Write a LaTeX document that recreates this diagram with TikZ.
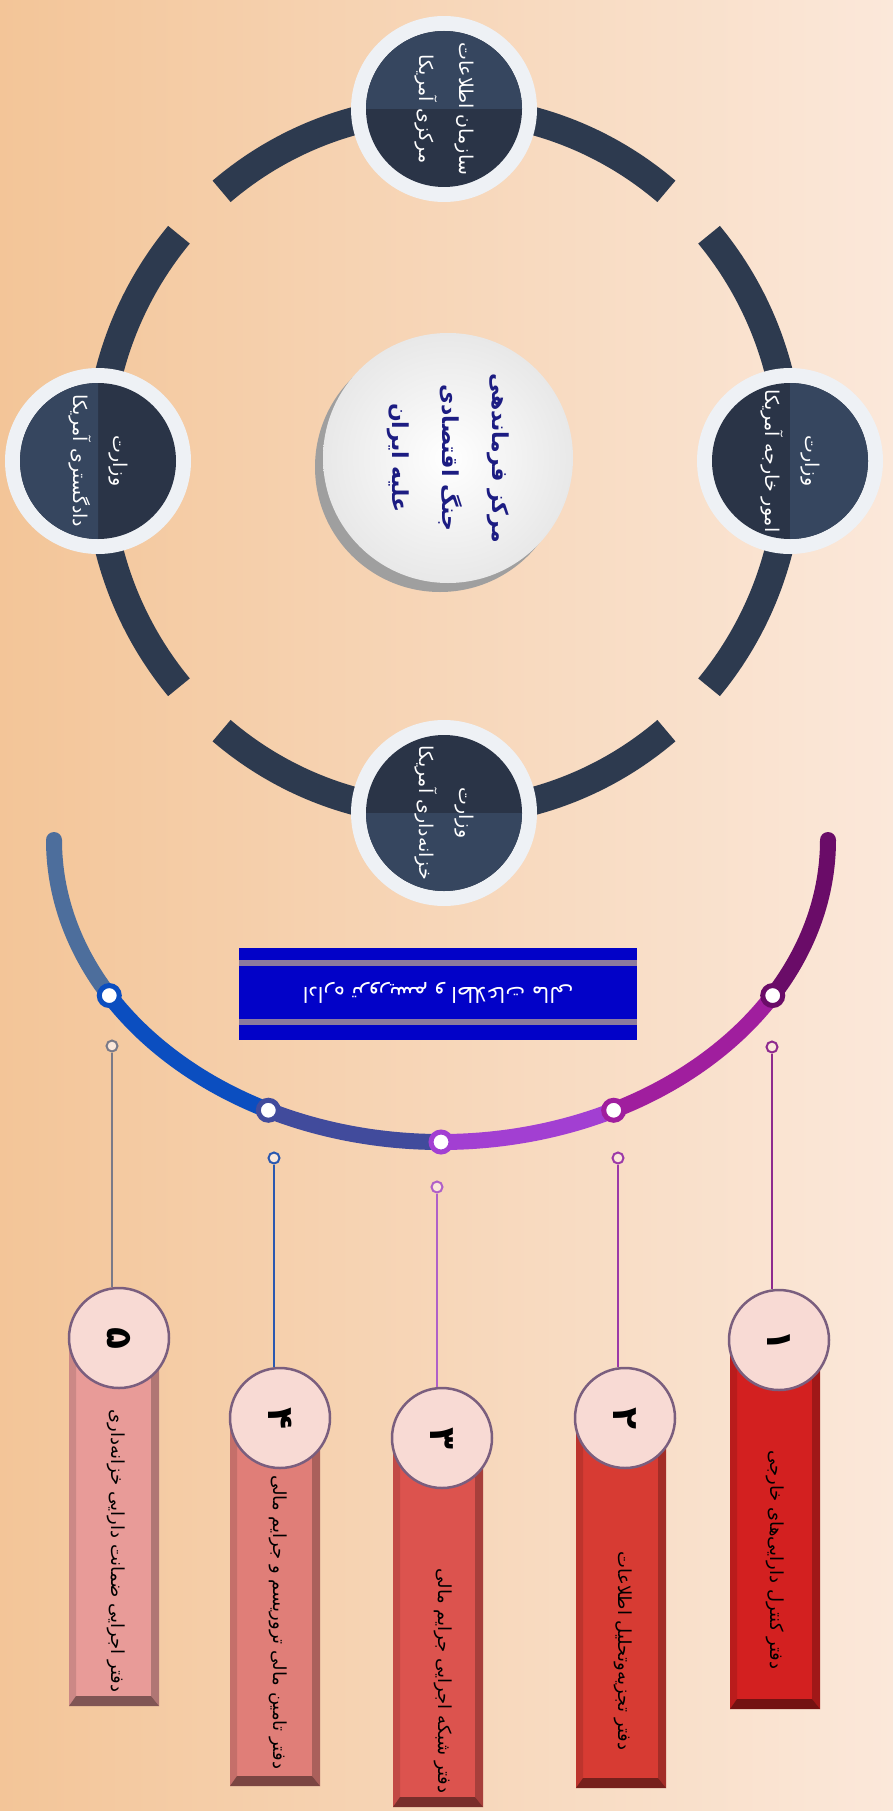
\documentclass[tikz,border=0pt]{standalone}
\usepackage{fontspec}
\usetikzlibrary{calc}
\newfontfamily\arabicfont[Script=Arabic]{DejaVu Sans}
\TeXXeTstate=1
\newcommand{\fa}[1]{\beginR #1\endR}
\definecolor{sandL}{HTML}{F3C598}
\definecolor{sandR}{HTML}{FBE8DA}
\definecolor{slate}{HTML}{2D3A4F}
\definecolor{slatehi}{HTML}{36465F}
\definecolor{slatelo}{HTML}{2A3447}
\definecolor{rim}{HTML}{EEF1F5}
\definecolor{navy}{HTML}{1C1C82}
\definecolor{banner}{HTML}{0202C8}
\definecolor{stripe}{HTML}{8C7A9E}
\definecolor{steel}{HTML}{4D6E9C}
\definecolor{cobalt}{HTML}{0B4EC0}
\definecolor{indigo}{HTML}{414B9C}
\definecolor{violet}{HTML}{A23FD2}
\definecolor{orchid}{HTML}{A01E9E}
\definecolor{plum}{HTML}{6A0C68}
\definecolor{pingrey}{HTML}{7A7A88}
\definecolor{pinblue}{HTML}{2A58B0}
\definecolor{pinlilac}{HTML}{B060C8}
\definecolor{pinmauve}{HTML}{9C3AA8}
\definecolor{pinplum}{HTML}{8E2A8E}
\definecolor{disc}{HTML}{F8DAD4}
\definecolor{discline}{HTML}{7A5E7E}
\definecolor{redA}{HTML}{D32020}
\definecolor{redB}{HTML}{D73B33}
\definecolor{redC}{HTML}{DC534E}
\definecolor{redD}{HTML}{E07E78}
\definecolor{redE}{HTML}{E89B98}

\begin{document}
\begin{tikzpicture}[x=1pt,y=-1pt,
  sat/.style={font=\arabicfont\fontsize{19}{40}\selectfont,text=white,align=center,rotate=-90},
  bartext/.style={font=\arabicfont\fontsize{18}{20}\selectfont,text=black,rotate=-90},
  numdisc/.style={circle,draw=discline,line width=2.5,fill=disc,minimum size=100,inner sep=0,
    font=\arabicfont\bfseries\fontsize{36}{38}\selectfont,rotate=-90},
  pin/.style={circle,draw=#1,fill=sandR,line width=2,minimum size=11,inner sep=0},
  knot/.style={circle,draw=#1,fill=white,line width=5,minimum size=20,inner sep=0}]
\useasboundingbox (0,0) rectangle (893,1811);
\shade[left color=sandL,right color=sandR] (0,0) rectangle (893,1811);
% ring of agencies
\foreach \a in {50,140,230,320}
  \draw[slate,line width=28] (444,461) ++(\a:346 and 352) arc[start angle=\a,end angle=\a+80,x radius=346,y radius=352];
\foreach \cx/\cy/\dir in {444/109/270,98/461/180,790/461/0,444/813/90} {
  \fill[rim] (\cx,\cy) circle[radius=93];
  \fill[slatelo] (\cx,\cy) circle[radius=78];
  \fill[slatehi] (\cx,\cy) ++(\dir-90:78) arc[start angle=\dir-90,end angle=\dir+90,radius=78] -- cycle;
}
\node[sat] (cia) at (444,109) {\fa{سازمان اطلاعات}\\\fa{مرکزی آمریکا}};
\node[sat] (justice) at (98,461) {\fa{وزارت}\\\fa{دادگستری آمریکا}};
\node[sat] (state) at (790,461) {\fa{وزارت}\\\fa{امور خارجه آمریکا}};
\node[sat] (treasury) at (444,813) {\fa{وزارت}\\\fa{خزانه‌داری آمریکا}};
% hub
\fill[gray!75] (440,467) circle[radius=125];
\node[circle,minimum size=250,inner color=white,outer color=gray!18,rotate=-90,align=center,
  text=navy,font=\arabicfont\bfseries\fontsize{22}{50}\selectfont] (hub) at (448,458)
  {\fa{مرکز فرماندهی}\\\fa{جنگ اقتصادی}\\\fa{علیه ایران}};
% lower arc
\foreach \s/\e/\c in {180/149/steel,149/116.5/cobalt,116.5/90/indigo,90/63.5/violet,63.5/31/orchid,31/0/plum}
  \draw[\c,line width=16,line cap=round] (441,840) ++(\s:387 and 302) arc[start angle=\s,end angle=\e,x radius=387,y radius=302];
\foreach \a/\c/\n in {149/cobalt/5,116.5/indigo/4,90/violet/3,63.5/orchid/2,31/plum/1}
  \path (441,840) ++(\a:387 and 302) node[knot=\c] (knot\n) {};
% banner
\fill[banner] (239,948) rectangle (637,1040);
\fill[stripe] (239,960) rectangle (637,966);
\fill[stripe] (239,1019) rectangle (637,1025);
\node[font=\arabicfont\fontsize{21}{24}\selectfont,text=white,rotate=180] (tfi) at (438,993)
  {\fa{اداره تروریسم و اطلاعات مالی}};
% hanging offices
\foreach \x/\t/\b/\c in {775/1340/1709/redA,621/1418/1788/redB,438/1438/1807/redC,275/1418/1786/redD,114/1338/1706/redE} {
  \fill[\c] (\x-45,\t) rectangle (\x+45,\b);
  \fill[\c!88!black] (\x-45,\t) -- (\x-38,\t) -- (\x-38,\b-10) -- (\x-45,\b) -- cycle;
  \fill[\c!76!black] (\x+45,\t) -- (\x+37,\t) -- (\x+37,\b-10) -- (\x+45,\b) -- cycle;
  \fill[\c!55!black] (\x-45,\b) -- (\x-38,\b-10) -- (\x+37,\b-10) -- (\x+45,\b) -- cycle;
}
\node[bartext] (office1) at (775,1560) {\fa{دفتر کنترل دارایی‌های خارجی}};
\node[bartext] (office2) at (623,1651) {\fa{دفتر تجزیه‌وتحلیل اطلاعات}};
\node[bartext] (office3) at (443,1681) {\fa{دفتر شبکه اجرایی جرایم مالی}};
\node[bartext] (office4) at (278,1622) {\fa{دفتر تامین مالی تروریسم و جرایم مالی}};
\node[bartext] (office5) at (116,1551) {\fa{دفتر اجرایی ضمانت دارایی خزانه‌داری}};
\node[numdisc] (num1) at (779,1340) {\fa{۱}};
\node[numdisc] (num2) at (625,1418) {\fa{۲}};
\node[numdisc] (num3) at (442,1438) {\fa{۳}};
\node[numdisc] (num4) at (280,1418) {\fa{۴}};
\node[numdisc] (num5) at (119,1338) {\fa{۵}};
\foreach \n/\x/\y/\c in {1/772/1047/pinplum,2/618/1158/pinmauve,3/437/1187/pinlilac,4/274/1158/pinblue,5/112/1046/pingrey} {
  \node[pin=\c] (pin\n) at (\x,\y) {};
  % the discs are turned, so their west anchor faces up
  \draw[\c,line width=2] (pin\n.south) -- (pin\n.south |- num\n.west);
}
\end{tikzpicture}
\end{document}
